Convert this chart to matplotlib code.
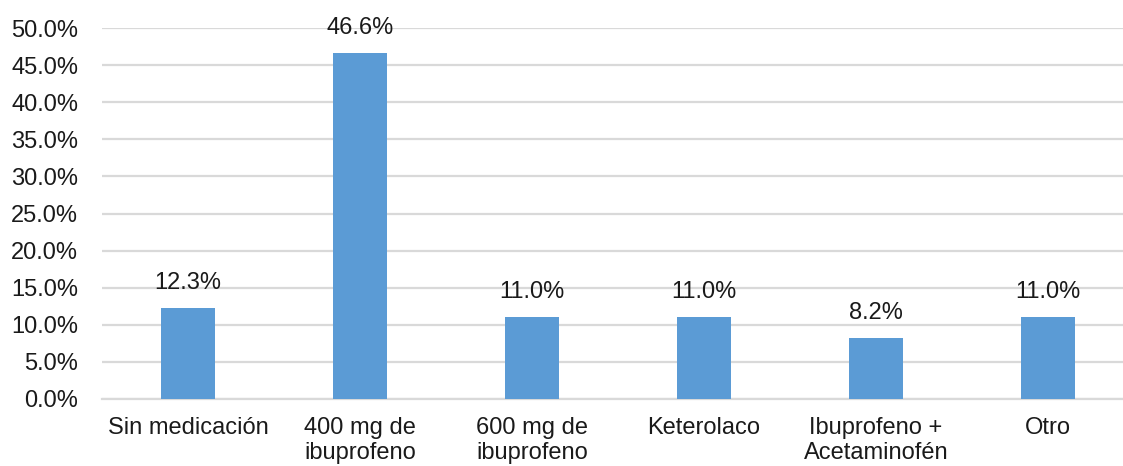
import numpy as np
import matplotlib.pyplot as plt
from matplotlib.ticker import FuncFormatter

plt.rcParams['font.family'] = ['Liberation Sans', 'DejaVu Sans']

categorias = ['Sin medicación', '400 mg de\nibuprofeno', '600 mg de\nibuprofeno',
              'Keterolaco', 'Ibuprofeno +\nAcetaminofén', 'Otro']
porcentajes = [12.3, 46.6, 11.0, 11.0, 8.2, 11.0]

fig = plt.figure(figsize=(11.23, 4.66), dpi=100)
ax = fig.add_axes([0.0908, 0.1438, 0.919, 0.796])

x = np.arange(len(categorias))
bars = ax.bar(x, porcentajes, width=0.31, color='#5B9BD5', zorder=3)

for b, v in zip(bars, porcentajes):
    ax.annotate('%.1f%%' % v, (b.get_x() + b.get_width() / 2, v),
                xytext=(0, 10), textcoords='offset points',
                ha='center', va='bottom', fontsize=17, color='#1a1a1a')

ax.set_xlim(-0.5, len(categorias) - 0.5)
ax.set_ylim(0, 50)
ax.set_yticks(np.arange(0, 50.1, 5))
ax.yaxis.set_major_formatter(FuncFormatter(lambda v, p: '%.1f%%' % v))
ax.set_xticks(x)
ax.set_xticklabels(categorias, linespacing=1.2)

ax.grid(axis='y', color='#D9D9D9', lw=1.6, zorder=0)
for s in ['top', 'right', 'left']:
    ax.spines[s].set_visible(False)
ax.spines['bottom'].set_color('#D9D9D9')
ax.spines['bottom'].set_linewidth(1.6)
ax.tick_params(axis='y', length=0, pad=17, labelsize=17, labelcolor='#1a1a1a')
ax.tick_params(axis='x', length=0, pad=13, labelsize=17, labelcolor='#1a1a1a')

fig.savefig('out.png', dpi=100)
plt.close()
